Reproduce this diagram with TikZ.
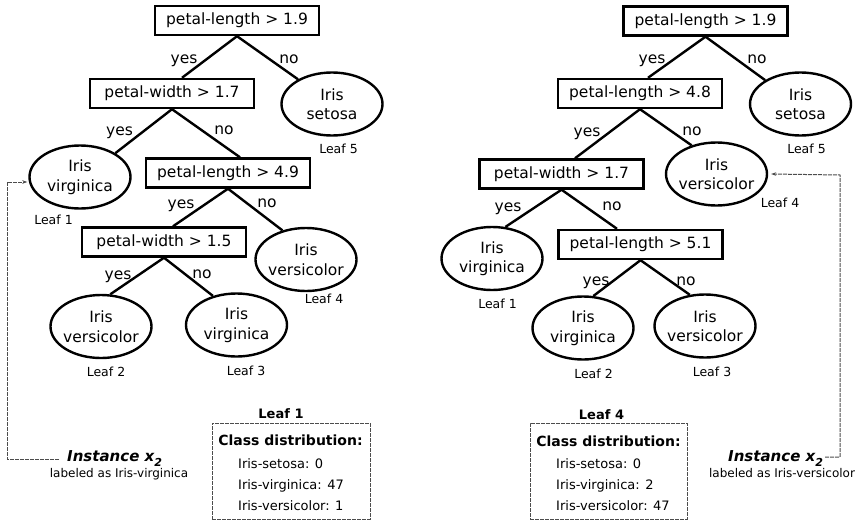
\documentclass[tikz,border=0pt]{standalone}
\usepackage{fontspec}
\setmainfont{DejaVu Sans}
\usetikzlibrary{shapes.geometric,arrows.meta}

% split test, leaf and annotation styles
\tikzset{
  test/.style={draw, line width=2.4pt, rectangle, minimum width=164pt,
    minimum height=29pt, inner sep=0pt, font=\fontsize{15.5}{18}\selectfont},
  leaf/.style={draw, line width=2.4pt, ellipse, minimum width=101pt,
    minimum height=63pt, inner sep=0pt, align=center,
    font=\fontsize{15.5}{19.5}\selectfont},
  branch/.style={line width=2.4pt},
  edgelbl/.style={font=\fontsize{15.5}{18}\selectfont, inner sep=0pt, anchor=base},
  leafname/.style={font=\fontsize{12.5}{15}\selectfont, inner sep=0pt, anchor=base},
  leaftitle/.style={font=\bfseries\fontsize{13}{15}\selectfont, inner sep=0pt, anchor=base},
  distbox/.style={draw=gray!60!black, line width=1pt, dash pattern=on 4pt off 1pt,
    minimum width=158pt, minimum height=96pt, inner sep=0pt},
  disthead/.style={font=\bfseries\fontsize{14}{16}\selectfont, inner sep=0pt, anchor=base},
  distitem/.style={font=\fontsize{13}{15}\selectfont, inner sep=0pt, anchor=base west},
  inst/.style={font=\bfseries\itshape\fontsize{15}{18}\selectfont, inner sep=0pt, anchor=base west},
  instnote/.style={font=\fontsize{12}{14}\selectfont, inner sep=0pt, anchor=base},
  link/.style={draw=gray!60!black, line width=1pt, dash pattern=on 4pt off 1pt,
    -{Stealth[length=5pt,width=3.5pt]}},
}
\newcommand{\leaftxt}[2]{\makebox[0pt]{#1}\\\makebox[0pt]{#2}}
\newcommand{\instx}{Instance x\raisebox{-0.38em}{\fontsize{11}{11}\selectfont 2}}

\begin{document}
\begin{tikzpicture}[x=1pt,y=-1pt]
\useasboundingbox (0,0) rectangle (861,522);

% ---------------- left tree ----------------
\node[test] (a1) at (237,20.5) {petal-length > 1.9};
\node[test] (a2) at (172,93.5) {petal-width > 1.7};
\node[test] (a3) at (228,173) {petal-length > 4.9};
\node[test] (a4) at (164,242) {petal-width > 1.5};

\node[leaf] (s5l) at (332,104) {\leaftxt{Iris}{setosa}};
\node[leaf] (v1l) at (80,177) {\leaftxt{Iris}{virginica}};
\node[leaf] (c4l) at (306,259.5) {\leaftxt{Iris}{versicolor}};
\node[leaf] (c2l) at (101,326.5) {\leaftxt{Iris}{versicolor}};
\node[leaf] (v3l) at (236.5,325) {\leaftxt{Iris}{virginica}};

\draw[branch] (a1.south) -- ([xshift=10pt]a2.north);
\draw[branch] (a1.south) -- (s5l.144.8);
\draw[branch] (a2.south) -- (v1l.34.4);
\draw[branch] (a2.south) -- ([xshift=12pt]a3.north);
\draw[branch] (a3.south) -- ([xshift=9pt]a4.north);
\draw[branch] (a3.south) -- (c4l.129);
\draw[branch] (a4.south) -- (c2l.74);
\draw[branch] (a4.south) -- (v3l.129);

\node[edgelbl] (ya1) at (184,63) {yes};
\node[edgelbl] (na1) at (289,63) {no};
\node[edgelbl] (ya2) at (119.5,135) {yes};
\node[edgelbl] (na2) at (224,134) {no};
\node[edgelbl] (ya3) at (181,208) {yes};
\node[edgelbl] (na3) at (267,207) {no};
\node[edgelbl] (ya4) at (118,279) {yes};
\node[edgelbl] (na4) at (202,278) {no};

\node[leafname] (n5l) at (338.5,153) {Leaf 5};
\node[leafname] (n1l) at (53.5,224) {Leaf 1};
\node[leafname] (n4l) at (324,303) {Leaf 4};
\node[leafname] (n2l) at (106,376) {Leaf 2};
\node[leafname] (n3l) at (246,375) {Leaf 3};

% class distribution of leaf 1
\node[leaftitle] (t1) at (281,418) {Leaf 1};
\node[distbox] (d1) at (291,471) {};
\node[disthead] (d1h) at (290.5,445) {Class distribution:};
\node[distitem] (d1a) at (238,468) {Iris-setosa: 0};
\node[distitem] (d1b) at (238,489) {Iris-virginica: 47};
\node[distitem] (d1c) at (238,510) {Iris-versicolor: 1};

% instance routed to leaf 1
\node[inst] (x1) at (67,461) {\instx};
\node[instnote] (x1n) at (119,477) {labeled as Iris-virginica};
\coordinate (bend1) at (7,182);
\draw[link] ([xshift=-8pt,yshift=2pt]x1.base west) -| (bend1) -- ([xshift=-1pt,yshift=-5pt]v1l.west);

% ---------------- right tree ----------------
\node[test] (b1) at (705.5,21) {petal-length > 1.9};
\node[test] (b2) at (640,93.5) {petal-length > 4.8};
\node[test] (b3) at (561.5,174) {petal-width > 1.7};
\node[test] (b4) at (640.5,244.5) {petal-length > 5.1};

\node[leaf] (s5r) at (800.5,104) {\leaftxt{Iris}{setosa}};
\node[leaf] (c4r) at (716.5,174) {\leaftxt{Iris}{versicolor}};
\node[leaf] (v1r) at (492,258.5) {\leaftxt{Iris}{virginica}};
\node[leaf] (v2r) at (583,328) {\leaftxt{Iris}{virginica}};
\node[leaf] (c3r) at (705,326) {\leaftxt{Iris}{versicolor}};

\draw[branch] (b1.south) -- ([xshift=8pt]b2.north);
\draw[branch] (b1.south) -- (s5r.146.7);
\draw[branch] (b2.south) -- ([xshift=13.5pt]b3.north);
\draw[branch] (b2.south) -- (c4r.131);
\draw[branch] (b3.south) -- (v1r.67.6);
\draw[branch] (b3.south) -- ([xshift=-23.5pt]b4.north);
\draw[branch] (b4.south) -- (v2r.72);
\draw[branch] (b4.south) -- (c3r.116.6);

\node[edgelbl] (yb1) at (652,63) {yes};
\node[edgelbl] (nb1) at (757,63) {no};
\node[edgelbl] (yb2) at (587,136) {yes};
\node[edgelbl] (nb2) at (692,135) {no};
\node[edgelbl] (yb3) at (508,211) {yes};
\node[edgelbl] (nb3) at (612,210) {no};
\node[edgelbl] (yb4) at (596,285) {yes};
\node[edgelbl] (nb4) at (686,285) {no};

\node[leafname] (n5r) at (806.5,153) {Leaf 5};
\node[leafname] (n4r) at (780,207) {Leaf 4};
\node[leafname] (n1r) at (497.5,308) {Leaf 1};
\node[leafname] (n2r) at (593.5,378) {Leaf 2};
\node[leafname] (n3r) at (712,376) {Leaf 3};

% class distribution of leaf 4
\node[leaftitle] (t4) at (601.5,419) {Leaf 4};
\node[distbox, minimum width=157pt] (d4) at (608.5,471) {};
\node[disthead] (d4h) at (608.5,446) {Class distribution:};
\node[distitem] (d4a) at (556,468) {Iris-setosa: 0};
\node[distitem] (d4b) at (556,489) {Iris-virginica: 2};
\node[distitem] (d4c) at (556,510) {Iris-versicolor: 47};

% instance routed to leaf 4
\node[inst] (x2) at (728,461) {\instx};
\node[instnote] (x2n) at (782,477) {labeled as Iris-versicolor};
\coordinate (bend2) at (840,175);
\draw[link] ([xshift=2pt,yshift=4pt]x2.base east) -| (bend2) -- ([xshift=3pt]c4r.east);
\end{tikzpicture}
\end{document}
